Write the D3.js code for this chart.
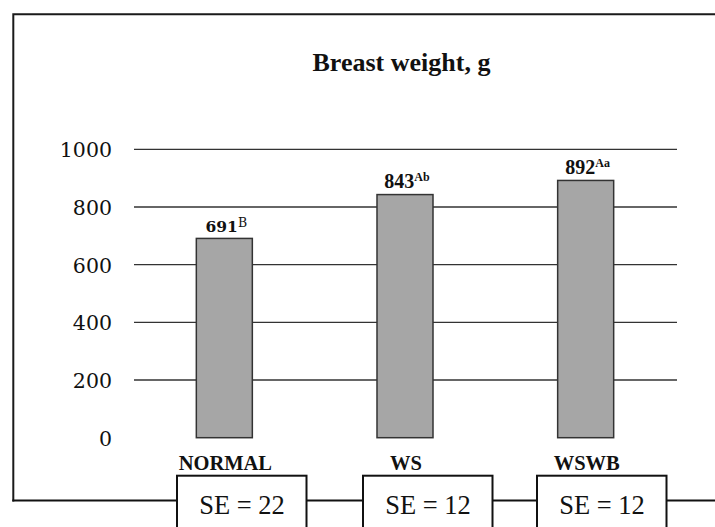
<!DOCTYPE html>
<html><head><meta charset="utf-8">
<script src="https://cdn.jsdelivr.net/npm/d3@7"></script>
<style>body{margin:0;background:#fff}svg{display:block}</style>
</head><body>
<script>
const categories = ["NORMAL", "WS", "WSWB"];
const values = [691, 843, 892];
const superscripts = ["B", "Ab", "Aa"];
const seLabels = ["SE = 22", "SE = 12", "SE = 12"];
const yTicks = [0, 200, 400, 600, 800, 1000];
const title = "Breast weight, g";

const W = 715, H = 527;
const svg = d3.select("body").append("svg").attr("width", W).attr("height", H);

const x = d3.scaleBand().domain(categories).range([134, 676]).paddingInner(0.69).paddingOuter(0.345);
const y = d3.scaleLinear().domain([0, 1000]).range([437.7, 149.3]);

// frame
svg.append("path").attr("d", `M13.3,501.5V14.3H${W+5}`).attr("fill","none").attr("stroke","#1a1a1a").attr("stroke-width",2);
svg.append("line").attr("x1",12.3).attr("x2",W+5).attr("y1",500.5).attr("y2",500.5).attr("stroke","#111").attr("stroke-width",2);

// title
svg.append("text").attr("x", 401.5).attr("y", 71).attr("text-anchor","middle")
  .attr("font-family","Liberation Serif").attr("font-weight","bold").attr("font-size",24.5)
  .attr("textLength",178).attr("lengthAdjust","spacingAndGlyphs").attr("fill","#111")
  .text(title);

// gridlines
svg.append("g").selectAll("line").data(yTicks.filter(d => d > 0)).join("line")
  .attr("x1",134).attr("x2",677).attr("y1",d=>y(d)).attr("y2",d=>y(d))
  .attr("stroke","#333").attr("stroke-width",1.3);

// y axis labels
const yAxis = d3.axisLeft(y).tickValues(yTicks).tickFormat(d3.format("d")).tickSize(0).tickPadding(0);
const ga = svg.append("g").attr("transform","translate(112,0)").call(yAxis);
ga.select(".domain").remove();
ga.selectAll("text").attr("font-family","DejaVu Serif").attr("font-size",20.5).attr("fill","#111").attr("dy","0.36em");

// bars
svg.append("g").selectAll("rect").data(values).join("rect")
  .attr("x",(d,i)=>x(categories[i])).attr("width",x.bandwidth())
  .attr("y",d=>y(d)).attr("height",d=>y(0)-y(d))
  .attr("fill","#a6a6a6").attr("stroke","#333").attr("stroke-width",1.5);

// value labels
const lab = svg.append("g").selectAll("text").data(values).join("text")
  .attr("x",(d,i)=>x(categories[i]) + x.bandwidth()/2 + 2)
  .attr("y",d=>y(d)-6.5).attr("text-anchor","middle")
  .attr("font-family",(d,i)=> i===0 ? "DejaVu Serif" : "Liberation Serif")
  .attr("font-weight","bold").attr("fill","#111")
  .attr("font-size",(d,i)=> i===0 ? 15.5 : 20);
lab.append("tspan").text(d=>d);
lab.append("tspan").attr("dy",(d,i)=> i===0 ? -5 : -7)
  .attr("font-size",(d,i)=> i===0 ? 12.5 : 12)
  .attr("font-weight",(d,i)=> i===0 ? "normal" : "bold")
  .text((d,i)=>superscripts[i]);

// category labels
svg.append("g").selectAll("text").data(categories).join("text")
  .attr("x",d=>x(d)+x.bandwidth()/2 + 1).attr("y",470).attr("text-anchor","middle")
  .attr("font-family","Liberation Serif").attr("font-weight","bold").attr("font-size",20.5).attr("fill","#111")
  .text(d=>d);

// SE boxes
const boxX = [177, 363, 537];
const se = svg.append("g").selectAll("g").data(seLabels).join("g");
se.append("rect").attr("x",(d,i)=>boxX[i]).attr("y",475.7).attr("width",129.5).attr("height",70)
  .attr("fill","#fff").attr("stroke","#111").attr("stroke-width",2);
se.append("text").attr("x",(d,i)=>boxX[i]+65).attr("y",514).attr("text-anchor","middle")
  .attr("font-family","Liberation Serif").attr("font-size",26.5).attr("fill","#111")
  .text(d=>d);
</script>
</body></html>
